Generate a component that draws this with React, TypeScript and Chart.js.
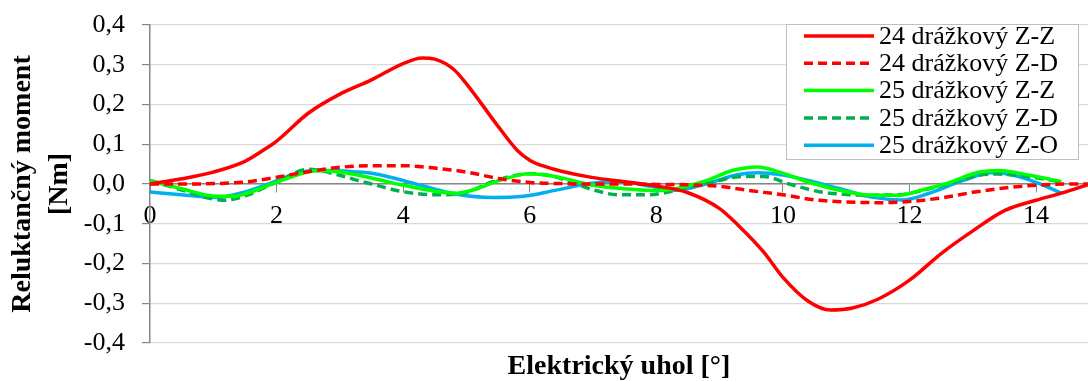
import React, { useEffect, useRef } from 'react';
import { Chart, registerables } from 'chart.js';

Chart.register(...registerables);

const FONT = '"Liberation Serif", "Times New Roman", serif';

const seriesLabels = [
  '24 drážkový Z-Z',
  '24 drážkový Z-D',
  '25 drážkový Z-Z',
  '25 drážkový Z-D',
  '25 drážkový Z-O',
];

const yTitleLines = ['Reluktančný moment', '[Nm]'];
const xTitle = 'Elektrický uhol [°]';

const xTickValues = [0, 2, 4, 6, 8, 10, 12, 14];
const yTickValues = [-0.4, -0.3, -0.2, -0.1, 0, 0.1, 0.2, 0.3, 0.4];

// 24 drážkový Z-Z
const x24ZZ = [0, 0.5, 1, 1.5, 1.8, 2, 2.5, 3, 3.5, 4, 4.3, 4.5, 4.8, 5, 5.5, 5.8, 6, 6.2, 6.5, 7, 7.5, 8, 8.5, 9, 9.3, 9.7, 10, 10.4, 10.75, 11.1, 11.5, 12, 12.5, 13, 13.5, 14, 14.4, 14.85];
const y24ZZ = [0, 0.013, 0.03, 0.057, 0.086, 0.108, 0.178, 0.226, 0.262, 0.303, 0.317, 0.314, 0.288, 0.252, 0.145, 0.085, 0.06, 0.046, 0.032, 0.016, 0.006, -0.005, -0.022, -0.062, -0.105, -0.172, -0.235, -0.295, -0.317, -0.312, -0.29, -0.242, -0.175, -0.118, -0.067, -0.041, -0.023, 0];

// 24 drážkový Z-D
const x24ZD = [0, 0.5, 1, 1.5, 2, 2.5, 3, 3.5, 4, 4.5, 5, 5.5, 6, 6.5, 7, 7.5, 8, 8.5, 9, 9.5, 10, 10.5, 11, 11.5, 12, 12.5, 13, 13.5, 14, 14.5, 14.85];
const y24ZD = [0, 0, 0.001, 0.005, 0.017, 0.031, 0.042, 0.046, 0.046, 0.04, 0.03, 0.014, 0.004, 0.001, 0, 0, -0.001, -0.002, -0.006, -0.017, -0.027, -0.04, -0.045, -0.047, -0.044, -0.035, -0.021, -0.01, -0.003, 0, 0];

// 25 drážkový Z-Z
const x25ZZ = [0, 0.5, 1, 1.3, 1.5, 2, 2.5, 2.7, 3, 3.5, 4, 4.5, 4.85, 5.2, 5.5, 6, 6.4, 7, 7.5, 8, 8.3, 8.8, 9.2, 9.6, 9.95, 10.4, 10.9, 11.4, 11.85, 12.2, 12.6, 13.1, 13.4, 13.9, 14.4];
const y25ZZ = [0.008, -0.012, -0.03, -0.031, -0.025, 0.004, 0.031, 0.034, 0.03, 0.015, -0.003, -0.018, -0.023, -0.01, 0.008, 0.026, 0.019, -0.003, -0.012, -0.017, -0.012, 0.009, 0.034, 0.043, 0.03, 0.005, -0.016, -0.028, -0.028, -0.015, 0.002, 0.03, 0.034, 0.022, 0.006];

// 25 drážkový Z-D
const x25ZD = [0, 0.5, 1, 1.15, 1.5, 2, 2.5, 3, 3.3, 3.6, 3.95, 4.5, 4.95, 5.4, 6, 6.4, 6.95, 7.4, 7.9, 8.3, 8.8, 9.3, 9.7, 10.1, 10.6, 11.4, 11.85, 12.1, 12.6, 13.1, 13.4, 13.9, 14.4];
const y25ZD = [0.009, -0.015, -0.038, -0.041, -0.03, 0.005, 0.037, 0.022, 0.008, -0.004, -0.018, -0.027, -0.023, 0.005, 0.026, 0.018, -0.012, -0.027, -0.027, -0.016, 0.001, 0.018, 0.019, 0, -0.02, -0.028, -0.027, -0.02, 0, 0.022, 0.025, 0.018, 0.005];

// 25 drážkový Z-O
const x25ZO = [0, 0.5, 1.05, 1.5, 1.87, 2.5, 2.8, 3.2, 3.55, 4.2, 4.85, 5.4, 5.9, 6.4, 6.95, 7.3, 7.6, 7.9, 8.3, 8.8, 9.3, 9.6, 9.95, 10.4, 10.9, 11.4, 11.9, 12.3, 12.85, 13.3, 13.65, 14.05, 14.4];
const y25ZO = [-0.02, -0.027, -0.034, -0.02, 0, 0.033, 0.034, 0.031, 0.026, 0, -0.026, -0.034, -0.031, -0.016, 0.001, 0.006, 0.003, -0.006, -0.016, 0.001, 0.024, 0.028, 0.024, 0.009, -0.012, -0.033, -0.04, -0.024, 0.009, 0.028, 0.022, 0.001, -0.023];

const seriesX = [x24ZZ, x24ZD, x25ZZ, x25ZD, x25ZO];
const seriesY = [y24ZZ, y24ZD, y25ZZ, y25ZD, y25ZO];
const seriesColors = ['#FF0000', '#FF0000', '#00FF00', '#00B050', '#00B0F0'];
const seriesDashed = [false, true, false, true, false];

const X_MAX = 14.82;

const fmt = (v: number) => (Math.abs(v) < 1e-9 ? '0,0' : v.toFixed(1).replace('.', ','));

const boxLegend = {
  id: 'boxLegend',
  afterDraw(chart: any) {
    const { ctx, chartArea } = chart;
    const boxW = 292;
    const boxH = 135;
    const bx = Math.round(chartArea.right - 10 - boxW);
    const by = Math.round(chartArea.top - 1);
    ctx.save();
    ctx.fillStyle = '#ffffff';
    ctx.fillRect(bx, by, boxW, boxH);
    ctx.strokeStyle = '#bfbfbf';
    ctx.lineWidth = 1;
    ctx.strokeRect(bx + 0.5, by + 0.5, boxW, boxH);
    chart.data.datasets.forEach((ds: any, i: number) => {
      const cy = by + 12 + i * 27.3;
      ctx.beginPath();
      ctx.setLineDash(ds.borderDash || []);
      ctx.strokeStyle = ds.borderColor;
      ctx.lineWidth = 3.5;
      ctx.moveTo(bx + 18, cy);
      ctx.lineTo(bx + 88, cy);
      ctx.stroke();
      ctx.setLineDash([]);
      ctx.fillStyle = '#000';
      ctx.font = `26px ${FONT}`;
      ctx.textBaseline = 'middle';
      ctx.textAlign = 'left';
      ctx.fillText(ds.label, bx + 93, cy + 1);
    });
    ctx.restore();
  },
};

const xTitlePlugin = {
  id: 'xTitlePlugin',
  afterDraw(chart: any) {
    const { ctx, chartArea } = chart;
    ctx.save();
    ctx.fillStyle = '#000';
    ctx.font = `bold 28px ${FONT}`;
    ctx.textAlign = 'center';
    ctx.textBaseline = 'middle';
    ctx.fillText(xTitle, (chartArea.left + chartArea.right) / 2, 367);
    ctx.restore();
  },
};

export default function App() {
  const ref = useRef<HTMLCanvasElement>(null);

  useEffect(() => {
    if (!ref.current) return;
    const datasets = seriesLabels.map((label, i) => ({
      label,
      data: seriesX[i].map((x, j) => ({ x, y: seriesY[i][j] })),
      borderColor: seriesColors[i],
      backgroundColor: seriesColors[i],
      borderWidth: 3.5,
      borderDash: seriesDashed[i] ? [9, 5] : [],
      pointRadius: 0,
      fill: false,
      cubicInterpolationMode: 'monotone' as const,
    }));
    const chart = new Chart(ref.current, {
      type: 'line',
      data: { datasets },
      plugins: [boxLegend, xTitlePlugin],
      options: {
        animation: false,
        responsive: false,
        devicePixelRatio: 1,
        layout: { padding: { top: 25, bottom: 38, left: 0, right: 0 } },
        plugins: { legend: { display: false }, tooltip: { enabled: false } },
        scales: {
          x: {
            type: 'linear',
            min: 0,
            max: X_MAX,
            position: { y: 0 } as any,
            afterBuildTicks: (s: any) => {
              s.ticks = xTickValues.map((v) => ({ value: v }));
            },
            ticks: {
              font: { family: FONT, size: 26 },
              color: '#000',
              padding: 9,
              maxRotation: 0,
              autoSkip: false,
              callback: (v: any) => String(v),
            },
            grid: { drawOnChartArea: false, drawTicks: true, tickLength: 8, tickColor: '#868686' },
            border: { color: '#868686', width: 1.5 },
          },
          y: {
            min: -0.4,
            max: 0.4,
            afterBuildTicks: (s: any) => {
              s.ticks = yTickValues.map((v) => ({ value: v }));
            },
            afterFit: (s: any) => {
              s.width = 150;
              s.paddingTop = 0;
              s.paddingBottom = 0;
            },
            ticks: {
              font: { family: FONT, size: 26 },
              color: '#000',
              padding: 17,
              callback: (v: any) => fmt(Number(v)),
            },
            grid: { color: '#d9d9d9', tickColor: '#868686', tickLength: 8, lineWidth: 1.2 },
            border: { color: '#868686', width: 1.5 },
            title: {
              display: true,
              text: yTitleLines,
              font: { family: FONT, size: 28, weight: 'bold', lineHeight: 1.32 },
              color: '#000',
              padding: { top: 4, bottom: 0 },
            },
          },
        },
      },
    });
    return () => chart.destroy();
  }, []);

  return (
    <div style={{ position: 'absolute', left: 0, top: 0, width: 1088, height: 381, background: '#fff' }}>
      <canvas ref={ref} width={1088} height={381} style={{ display: 'block', width: 1088, height: 381 }} />
    </div>
  );
}
